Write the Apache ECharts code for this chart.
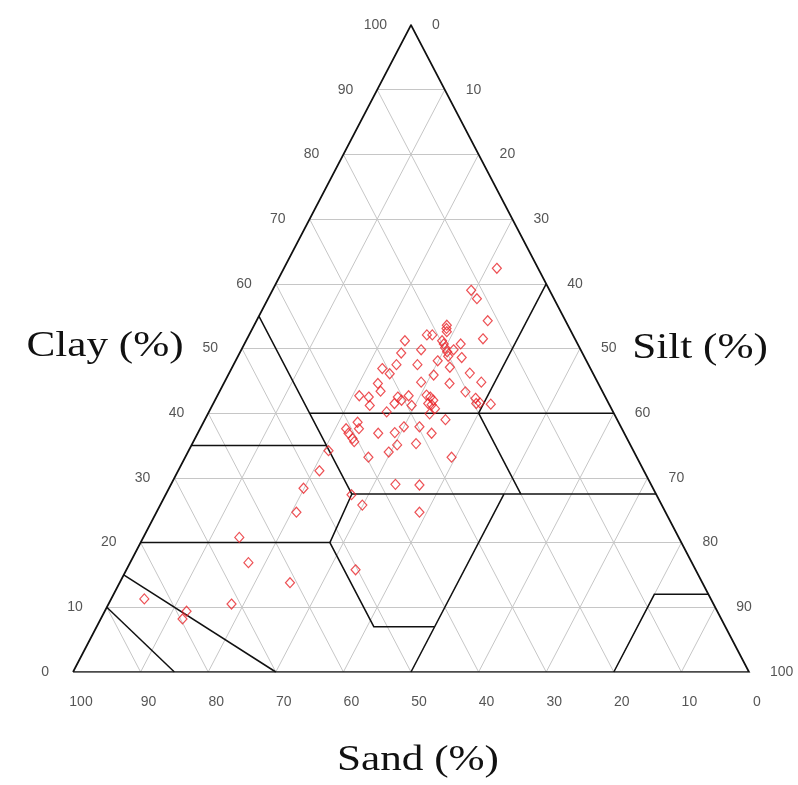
<!DOCTYPE html>
<html>
<head>
<meta charset="utf-8">
<script src="https://cdn.jsdelivr.net/npm/echarts@6/dist/echarts.min.js"></script>
<style>
html,body{margin:0;padding:0;background:#fff;}
#chart{width:798px;height:785px;}
</style>
</head>
<body>
<div id="chart"></div>
<script>
// Soil samples (percent). Silt = 100 - clay - sand.
const clay = [62.4,59.0,57.7,54.3,51.5,53.6,53.1,52.6,52.1,52.1,
  51.2,51.2,50.7,50.7,50.1,49.8,49.8,49.3,49.5,48.8,
  48.6,48.1,47.5,47.1,47.5,46.9,46.1,46.2,45.9,44.8,
  44.8,44.6,44.6,43.4,42.7,42.5,41.2,42.5,42.7,41.5,
  42.0,41.2,42.8,42.5,42.0,41.5,41.3,40.7,39.9,
  43.3,42.3,41.5,41.6,41.4,40.2,39.0,38.6,37.6,37.6,
  36.9,36.1,35.6,36.9,37.0,37.9,37.9,36.9,35.1,34.0,
  35.3,34.2,33.2,33.2,31.1,28.4,29.0,28.9,27.4,25.8,
  24.7,24.7,20.8,16.9,13.8,15.8,11.3,10.5,9.4,8.2];
const sand = [6.1,11.6,11.4,11.5,13.6,17.9,18.2,18.4,21.6,20.8,
  25.3,19.8,19.8,17.3,19.9,18.8,23.6,26.8,19.9,20.1,
  18.2,22.0,25.3,20.7,28.4,30.8,30.1,18.2,23.7,17.2,
  26.1,22.0,32.6,32.8,36.3,35.0,35.5,30.7,29.0,31.7,
  30.4,29.3,26.3,25.9,25.7,26.7,26.3,26.1,27.3,
  20.3,19.3,19.6,19.0,17.5,33.5,25.4,38.6,38.9,40.8,
  40.8,40.6,40.6,36.4,33.9,32.1,29.8,28.5,34.5,36.3,
  31.6,45.1,39.7,27.4,48.0,51.7,37.8,34.3,45.1,44.3,
  54.6,36.4,65.0,65.6,61.0,50.3,83.8,71.3,78.5,79.7];

// Tick labels on the three axes
const ticks = [0,10,20,30,40,50,60,70,80,90,100];

// USDA texture class boundaries as [sand, clay] vertices
const boundaries = [
  [[90,10],[85,0]],
  [[85,15],[70,0]],
  [[80,20],[52,20],[52,7],[43,7]],
  [[22.5,27.5],[50,0]],
  [[45,55],[45,27.5],[52,20]],
  [[65,35],[45,35]],
  [[45,40],[0,40]],
  [[45,27.5],[0,27.5]],
  [[20,40],[20,27.5]],
  [[20,40],[0,60]],
  [[20,0],[8,12],[0,12]]
];

// ternary (sand, clay) -> cartesian
function tern(s, c){ return [100 - s - c/2, c]; }

const gridLines = [];
for (let k = 10; k < 100; k += 10) {
  gridLines.push({coords:[tern(100-k,k), tern(0,k)]});        // clay = k
  gridLines.push({coords:[tern(k,0), tern(k,100-k)]});        // sand = k
  gridLines.push({coords:[tern(100-k,0), tern(0,100-k)]});    // silt = k
}
const bLines = boundaries.map(p => ({coords: p.map(v => tern(v[0], v[1]))}));
const outline = [{coords:[tern(100,0), tern(0,100), tern(0,0), tern(100,0)]}];

const pts = clay.map((c,i) => tern(sand[i], c));

const labelStyle = {color:'#2a2a2a', fontFamily:'Liberation Sans, Arial', fontSize:14};

const chart = echarts.init(document.getElementById('chart'));
chart.setOption({
  animation:false,
  backgroundColor:'#ffffff',
  grid:{left:73, right:49, top:25, bottom:113},
  xAxis:{type:'value', min:0, max:100, show:false},
  yAxis:{type:'value', min:0, max:100, show:false},
  series:[
    {type:'lines', coordinateSystem:'cartesian2d', silent:true, z:1,
     lineStyle:{color:'#c6c6c6', width:1, opacity:1}, data:gridLines},
    {type:'lines', coordinateSystem:'cartesian2d', polyline:true, silent:true, z:2,
     lineStyle:{color:'#111', width:1.5, opacity:1}, data:bLines},
    {type:'lines', coordinateSystem:'cartesian2d', polyline:true, silent:true, z:3,
     lineStyle:{color:'#111', width:1.7, opacity:1}, data:outline},
    {type:'scatter', z:5, symbol:'diamond', symbolSize:[9,10], data:pts,
     itemStyle:{color:'rgba(255,255,255,0)', borderColor:'#e8262b', borderWidth:1.2}},
    // clay labels (left edge)
    {type:'scatter', symbolSize:0, silent:true,
     data: ticks.map(c => ({value: tern(100-c, c), name: String(c)})),
     label:Object.assign({show:true, position:'left', distance:24, formatter:'{b}'}, labelStyle)},
    // silt labels (right edge)
    {type:'scatter', symbolSize:0, silent:true,
     data: ticks.map(t => ({value: tern(0, 100-t), name: String(t)})),
     label:Object.assign({show:true, position:'right', distance:21, formatter:'{b}'}, labelStyle)},
    // sand labels (bottom edge)
    {type:'scatter', symbolSize:0, silent:true,
     data: ticks.map(s => ({value: tern(s, 0), name: String(s)})),
     label:Object.assign({show:true, position:'inside', offset:[8,30], formatter:'{b}'}, labelStyle)}
  ],
  graphic:[
    {type:'text', x:105, y:347, scaleX:1.2, style:{text:'Clay (%)', fontFamily:'Liberation Serif, Times New Roman', fontSize:36, fill:'#111', textAlign:'center', textVerticalAlign:'middle'}},
    {type:'text', x:700, y:349, scaleX:1.2, style:{text:'Silt (%)', fontFamily:'Liberation Serif, Times New Roman', fontSize:36, fill:'#111', textAlign:'center', textVerticalAlign:'middle'}},
    {type:'text', x:418, y:761, scaleX:1.2, style:{text:'Sand (%)', fontFamily:'Liberation Serif, Times New Roman', fontSize:36, fill:'#111', textAlign:'center', textVerticalAlign:'middle'}}
  ]
});
</script>
</body>
</html>
